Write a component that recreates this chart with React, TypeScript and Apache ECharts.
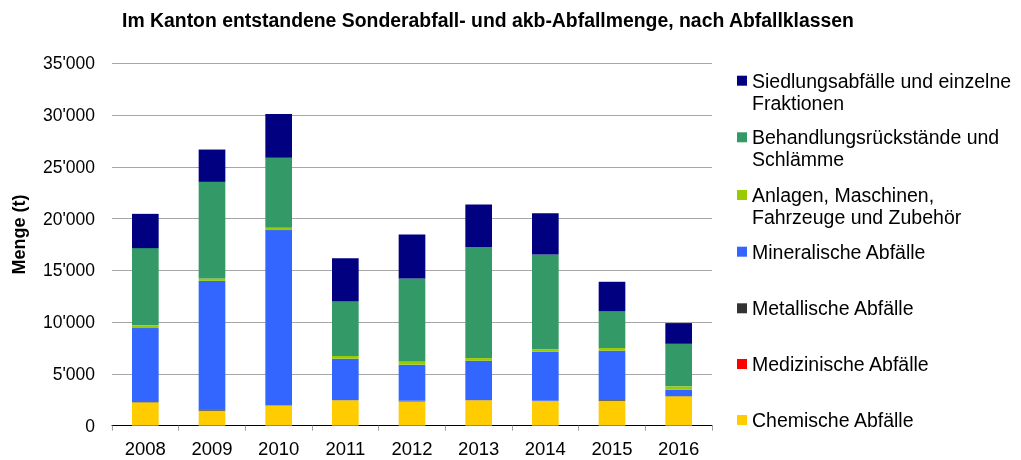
import React, { useEffect, useRef } from "react";
import * as echarts from "echarts";

const years = ["2008", "2009", "2010", "2011", "2012", "2013", "2014", "2015", "2016"];

const chemische = [2260, 1450, 1970, 2450, 2350, 2450, 2380, 2410, 2840];
const medizinische = [0, 0, 0, 0, 0, 0, 0, 0, 0];
const metallische = [30, 130, 30, 20, 50, 20, 20, 70, 20];
const mineralische = [7140, 12410, 16890, 4000, 3490, 3800, 4740, 4760, 610];
const anlagen = [260, 230, 220, 260, 320, 260, 260, 260, 330];
const behandlung = [7460, 9330, 6760, 5270, 8010, 10740, 9140, 3570, 4110];
const siedlung = [3310, 3120, 4240, 4180, 4250, 4090, 3980, 2830, 2000];

const seriesDefs = [
  { name: "Chemische Abfälle", data: chemische, color: "#FFCC00", multi: false },
  { name: "Medizinische Abfälle", data: medizinische, color: "#FF0000", multi: false },
  { name: "Metallische Abfälle", data: metallische, color: "#333333", multi: false },
  { name: "Mineralische Abfälle", data: mineralische, color: "#3366FF", multi: false },
  { name: "Anlagen, Maschinen,\nFahrzeuge und Zubehör", data: anlagen, color: "#99CC00", multi: true },
  { name: "Behandlungsrückstände und\nSchlämme", data: behandlung, color: "#339966", multi: true },
  { name: "Siedlungsabfälle und einzelne\nFraktionen", data: siedlung, color: "#000080", multi: true },
];

// legend icon centres (top to bottom)
const legendCenters = [80.7, 137.3, 195, 251.7, 308.3, 364, 420];

const FONT = "'Liberation Sans', Arial, sans-serif";

export default function App() {
  const ref = useRef<HTMLDivElement>(null);
  useEffect(() => {
    if (!ref.current) return;
    const chart = echarts.init(ref.current, null, { renderer: "svg" });
    const legendOrder = [...seriesDefs].reverse();
    const legends = legendOrder.map((s, i) => ({
      data: [s.name],
      orient: "vertical",
      left: 737,
      top: legendCenters[i] - (s.multi ? 33 : 11),
      padding: 0,
      itemWidth: 10,
      itemHeight: 10,
      itemGap: 0,
      icon: "rect",
      selectedMode: false,
      formatter: s.multi ? (n: string) => "\n" + n : undefined,
      textStyle: {
        fontFamily: FONT,
        fontSize: 19.5,
        color: "#000",
        lineHeight: 22,
      },
    }));
    chart.setOption({
      animation: false,
      textStyle: { fontFamily: FONT },
      title: {
        text: "Im Kanton entstandene Sonderabfall- und akb-Abfallmenge, nach Abfallklassen",
        left: 122,
        top: 10,
        padding: 0,
        textStyle: { fontFamily: FONT, fontSize: 19.4, fontWeight: "bold", color: "#000" },
      },
      legend: legends,
      grid: { left: 112, right: 309, top: 63.3, bottom: 34.3, containLabel: false },
      xAxis: {
        type: "category",
        data: years,
        axisLine: { lineStyle: { color: "#000", width: 1 } },
        axisTick: { show: true, length: 5, lineStyle: { color: "#a0a0a0" } },
        axisLabel: { fontFamily: FONT, fontSize: 18.5, color: "#000", margin: 13 },
      },
      yAxis: {
        type: "value",
        min: 0,
        max: 35000,
        interval: 5000,
        name: "Menge (t)",
        nameLocation: "middle",
        nameRotate: 90,
        nameGap: 84,
        nameTextStyle: {
          fontFamily: FONT,
          fontSize: 18,
          fontWeight: "bold",
          color: "#000",
          padding: [0, 0, 0, 20],
        },
        axisLine: { show: false },
        axisTick: { show: false },
        splitLine: { lineStyle: { color: "#a6a6a6", width: 1 } },
        axisLabel: {
          fontFamily: FONT,
          fontSize: 17.5,
          color: "#000",
          margin: 17,
          formatter: (v: number) => String(v).replace(/\B(?=(\d{3})+(?!\d))/g, "'"),
        },
      },
      series: seriesDefs.map((s) => ({
        name: s.name,
        type: "bar",
        stack: "total",
        barWidth: "40%",
        data: s.data,
        itemStyle: { color: s.color },
      })),
    });
    return () => chart.dispose();
  }, []);
  return (
    <div
      ref={ref}
      style={{ position: "fixed", left: 0, top: 0, width: 1021, height: 460 }}
    />
  );
}
